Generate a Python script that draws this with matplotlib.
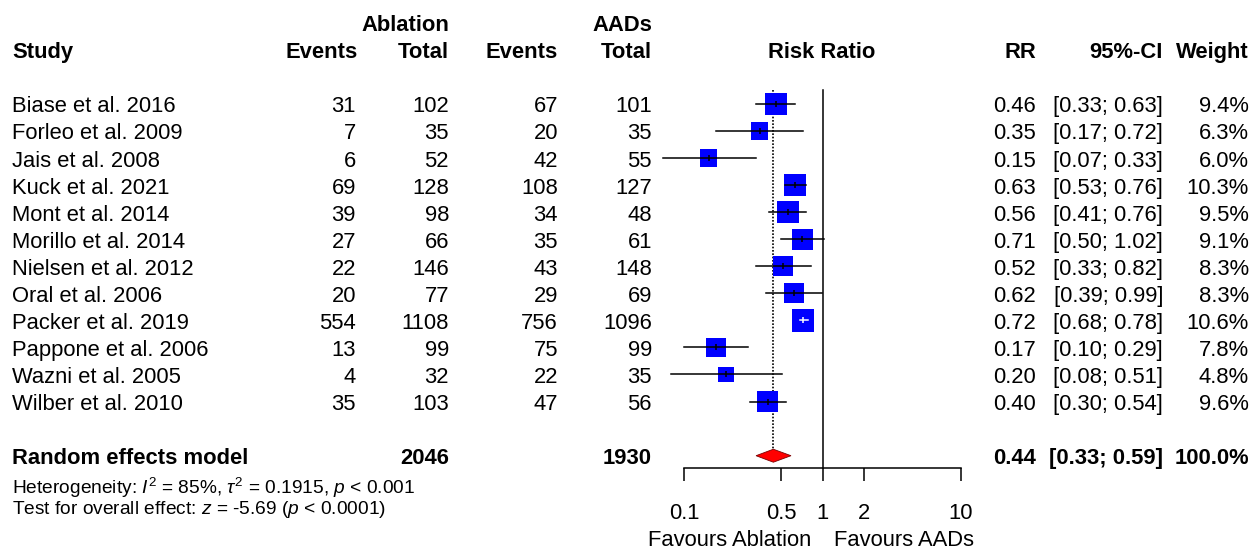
import numpy as np
import matplotlib
matplotlib.use('Agg')
import matplotlib.pyplot as plt

# study data
studies = ['Biase et al. 2016', 'Forleo et al. 2009', 'Jais et al. 2008', 'Kuck et al. 2021',
           'Mont et al. 2014', 'Morillo et al. 2014', 'Nielsen et al. 2012', 'Oral et al. 2006',
           'Packer et al. 2019', 'Pappone et al. 2006', 'Wazni et al. 2005', 'Wilber et al. 2010']
abl_events = [31, 7, 6, 69, 39, 27, 22, 20, 554, 13, 4, 35]
abl_total = [102, 35, 52, 128, 98, 66, 146, 77, 1108, 99, 32, 103]
aad_events = [67, 20, 42, 108, 34, 35, 43, 29, 756, 75, 22, 47]
aad_total = [101, 35, 55, 127, 48, 61, 148, 69, 1096, 99, 35, 56]
rr = [0.46, 0.35, 0.15, 0.63, 0.56, 0.71, 0.52, 0.62, 0.72, 0.17, 0.20, 0.40]
ci_lo = [0.33, 0.17, 0.07, 0.53, 0.41, 0.50, 0.33, 0.39, 0.68, 0.10, 0.08, 0.30]
ci_hi = [0.63, 0.72, 0.33, 0.76, 0.76, 1.02, 0.82, 0.99, 0.78, 0.29, 0.51, 0.54]
weight = [9.4, 6.3, 6.0, 10.3, 9.5, 9.1, 8.3, 8.3, 10.6, 7.8, 4.8, 9.6]

pooled_rr, pooled_lo, pooled_hi = 0.44, 0.33, 0.59
pooled_abl_total, pooled_aad_total = 2046, 1930
ticks = [0.1, 0.5, 1, 2, 10]

plt.rcParams['font.family'] = ['Liberation Sans', 'DejaVu Sans']
plt.rcParams['mathtext.fontset'] = 'custom'
plt.rcParams['mathtext.rm'] = 'Liberation Sans'
plt.rcParams['mathtext.it'] = 'Liberation Sans:italic'

W, H = 1255, 548
fs = 15.8

# vertical layout: row i sits at pixel y0 + dy*i
y0, dy = 103.8, 27.07
def px2row(py):
    return (py - y0) / dy

# baseline of a text line sits this many rows below the row centre
bl = 8.6 / dy

# horizontal layout of the log axis: 0.1 at x=684, 10 at x=961
x01, dec = 684.3, 138.4
def px2val(px):
    return 10 ** (-1 + (px - x01) / dec)

fig = plt.figure(figsize=(W / 100, H / 100), dpi=100)

# text layer: x in pixels, y in rows
tx = fig.add_axes([0, 0, 1, 1])
tx.set_xlim(0, W)
tx.set_ylim(px2row(H), px2row(0))
tx.axis('off')

# forest layer
fx_l, fx_r, fy_t, fy_b = 640, 1000, 80, 468
ax = fig.add_axes([fx_l / W, 1 - fy_b / H, (fx_r - fx_l) / W, (fy_b - fy_t) / H])
ax.set_xscale('log')
ax.set_xlim(px2val(fx_l), px2val(fx_r))
ax.set_ylim(px2row(fy_b), px2row(fy_t))
ax.patch.set_alpha(0)
for s in ['top', 'left', 'right']:
    ax.spines[s].set_visible(False)
ax.spines['bottom'].set_bounds(ticks[0], ticks[-1])
ax.spines['bottom'].set_linewidth(1.1)
ax.set_yticks([])
ax.set_xticks(ticks)
ax.set_xticklabels([str(t) for t in ticks], fontsize=fs)
ax.xaxis.set_minor_locator(matplotlib.ticker.NullLocator())
ax.tick_params(axis='x', direction='out', length=9.5, width=1.1, pad=16)

# headers
bold = dict(fontsize=fs, fontweight='bold', va='baseline')
tx.text(12, -2 + bl, 'Study', ha='left', **bold)
tx.text(449, -3 + bl, 'Ablation', ha='right', **bold)
tx.text(358, -2 + bl, 'Events', ha='right', **bold)
tx.text(449, -2 + bl, 'Total', ha='right', **bold)
tx.text(652, -3 + bl, 'AADs', ha='right', **bold)
tx.text(558, -2 + bl, 'Events', ha='right', **bold)
tx.text(652, -2 + bl, 'Total', ha='right', **bold)
tx.text(822, -2 + bl, 'Risk Ratio', ha='center', **bold)
tx.text(1036, -2 + bl, 'RR', ha='right', **bold)
tx.text(1163, -2 + bl, '95%-CI', ha='right', **bold)
tx.text(1249, -2 + bl, 'Weight', ha='right', **bold)

norm = dict(fontsize=fs, va='baseline')
for i, name in enumerate(studies):
    y = i + bl
    tx.text(12, y, name, ha='left', **norm)
    tx.text(356, y, str(abl_events[i]), ha='right', **norm)
    tx.text(449, y, str(abl_total[i]), ha='right', **norm)
    tx.text(558, y, str(aad_events[i]), ha='right', **norm)
    tx.text(652, y, str(aad_total[i]), ha='right', **norm)
    tx.text(1036, y, f'{rr[i]:.2f}', ha='right', **norm)
    tx.text(1163, y, f'[{ci_lo[i]:.2f}; {ci_hi[i]:.2f}]', ha='right', **norm)
    tx.text(1249, y, f'{weight[i]:.1f}%', ha='right', **norm)

mrow = 13
tx.text(12, mrow + bl, 'Random effects model', ha='left', **bold)
tx.text(449, mrow + bl, str(pooled_abl_total), ha='right', **bold)
tx.text(652, mrow + bl, str(pooled_aad_total), ha='right', **bold)
tx.text(1036, mrow + bl, f'{pooled_rr:.2f}', ha='right', **bold)
tx.text(1163, mrow + bl, f'[{pooled_lo:.2f}; {pooled_hi:.2f}]', ha='right', **bold)
tx.text(1249, mrow + bl, '100.0%', ha='right', **bold)

# both footnote lines in one text object
het = (r'Heterogeneity: $I^2$ = 85%, $\tau^2$ = 0.1915, $p$ < 0.001' + '\n' +
       r'Test for overall effect: $z$ = -5.69 ($p$ < 0.0001)')
tx.text(12, px2row(476), het, ha='left', va='top', fontsize=13.8, linespacing=0.95)

tx.text(730, px2row(540), 'Favours Ablation', ha='center', va='center', fontsize=fs)
tx.text(904, px2row(540), 'Favours AADs', ha='center', va='center', fontsize=fs)

# reference lines
top = px2row(90)
ax.plot([1, 1], [top, px2row(fy_b)], color='black', lw=1.1, clip_on=False)
ax.plot([pooled_rr, pooled_rr], [top, mrow], color='black', lw=1.2, ls=(0, (1, 1)))

# squares sized by weight, CI lines on top
k = 7.0
rows = np.arange(len(studies))
size_px = k * np.sqrt(weight)
ax.scatter(rr, rows, marker='s', s=(0.72 * size_px) ** 2, color='#0000ff',
           edgecolors='none', zorder=2, clip_on=False)
for i in rows:
    hw = size_px[i] / 2 / dec
    inside = (np.log10(ci_hi[i]) - np.log10(rr[i]) < hw) and (np.log10(rr[i]) - np.log10(ci_lo[i]) < hw)
    c = 'white' if inside else 'black'
    ax.plot([ci_lo[i], ci_hi[i]], [i, i], color=c, lw=1.1, zorder=3, clip_on=False)
    ax.plot([rr[i]], [i], marker='|', ms=5, mew=1.1, color=c, zorder=3, clip_on=False)

# pooled diamond
h = 0.24
ax.fill([pooled_lo, pooled_rr, pooled_hi, pooled_rr], [mrow, mrow - h, mrow, mrow + h],
        facecolor='#ff0000', edgecolor='#7a0000', lw=0.6, zorder=3)

fig.savefig('out.png', dpi=100)
